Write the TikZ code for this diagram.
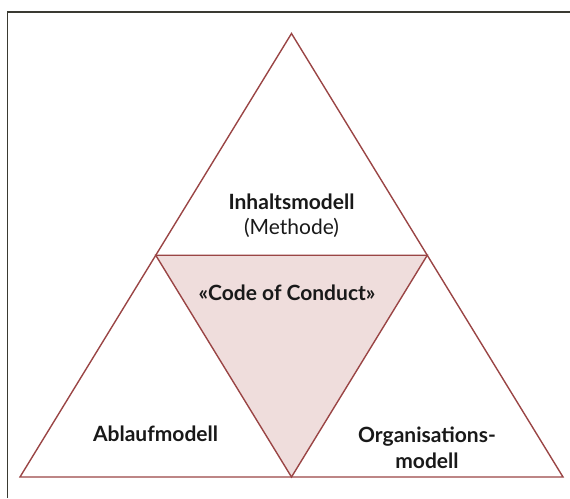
\documentclass[tikz,border=0pt]{standalone}
\usepackage{fontspec}
\setmainfont{Lato}
\usetikzlibrary{positioning,calc}
\definecolor{tri}{HTML}{9A4545}
\definecolor{trifill}{HTML}{EFDDDC}
\definecolor{frame}{HTML}{3A3A32}

\begin{document}
\begin{tikzpicture}[
    x=1pt, y=-1pt,
    edge/.style={draw=tri, line width=1.4pt, line join=miter},
    label/.style={font=\fontsize{21}{26}\selectfont, align=center, text=black!90},
    bold/.style={label, font=\fontsize{21}{26}\selectfont\bfseries},
]
    \useasboundingbox (0,0) rectangle (570,498);
    \draw[frame, line width=1.6pt] (7.5,498) -- (7.5,12) -- (570,12);
    \coordinate (apex) at (291.5,33.5);
    \coordinate (left) at (20,477);
    \coordinate (right) at (563,477);
    \coordinate (midL) at ($(apex)!0.5!(left)$);
    \coordinate (midR) at ($(apex)!0.5!(right)$);
    \coordinate (midB) at ($(left)!0.5!(right)$);
    \fill[trifill] (midL) -- (midR) -- (midB) -- cycle;
    \draw[edge] (apex) -- (right) -- (left) -- cycle;
    \draw[edge] (midL) -- (midR) -- (midB) -- cycle;
    \node[bold] (inhalt) at (291.5,202) {Inhaltsmodell};
    \node[label] (methode) at (291.5,228) {(Methode)};
    \node[bold] (code) at (287,293) {«Code of Conduct»};
    \node[bold] (ablauf) at (155.5,434) {Ablaufmodell};
    \node[bold] (orga) at (427,447.5) {Organisations-\\modell};
\end{tikzpicture}
\end{document}
